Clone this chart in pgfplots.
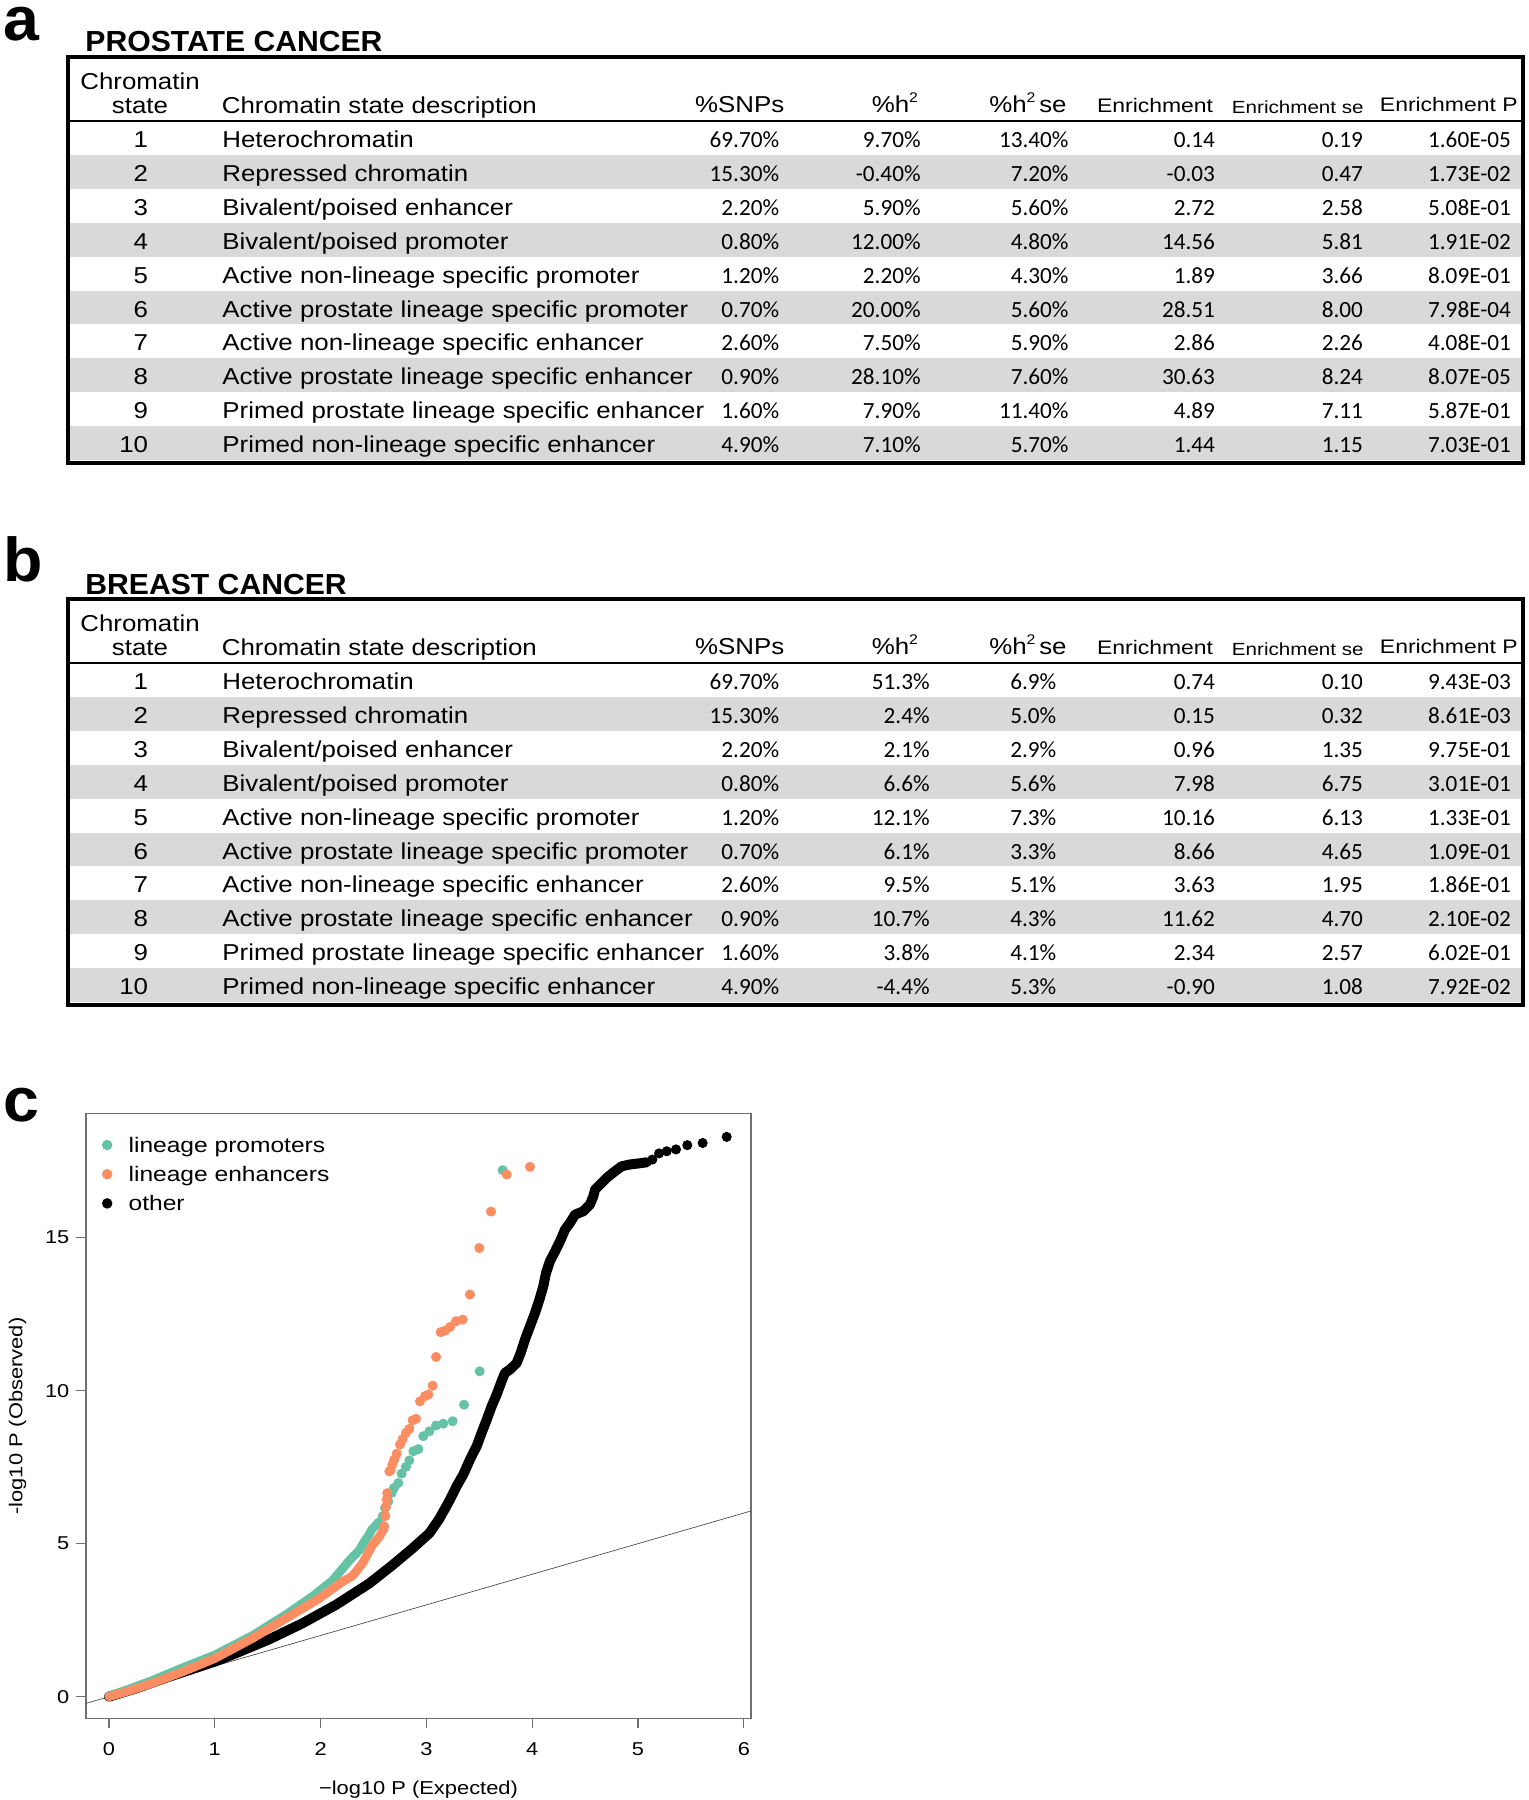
\documentclass[border=0pt]{standalone}
\usepackage{fontspec}
\usepackage{pgfplots}
\pgfplotsset{compat=1.18}
\setmainfont{Liberation Sans}
\newfontfamily\hvs{Liberation Sans}[FakeStretch=1.125]
\newfontfamily\hvq{Liberation Sans}[FakeStretch=1.17]
\newfontfamily\hvt{Liberation Sans}[FakeStretch=1.04]
\newfontfamily\calib{Carlito}
\definecolor{rowgrey}{HTML}{D9D9D9}
\definecolor{tealc}{HTML}{66C2A5}
\definecolor{orangec}{HTML}{FC8D62}
\definecolor{boxgrey}{HTML}{707070}

\newcommand\hf{\hvs\fontsize{11.5}{12}\selectfont}
\newcommand\nf{\calib\fontsize{11.6}{13}\selectfont}
\newcommand\sq{\raisebox{0.42em}{\fontsize{7}{7}\selectfont 2}}

% #1 = right edge of %h2 values, #2 = right edge of %h2 se values, #3 = rows
\newcommand\chromtable[3]{%
  \foreach \k in {2,4,6,8,10} {\fill[rowgrey] (69,{121+(\k-1)*33.9}) rectangle (1521,{121+\k*33.9});}
  \draw[line width=0.9pt] (67,120.7) -- (1523,120.7);
  \draw[line width=2pt] (67.5,56.7) rectangle (1522.5,463);
  \node[anchor=base, inner sep=0] at (140,89.7) {\hf Chromatin};
  \node[anchor=base, inner sep=0] at (140,113) {\hf state};
  \node[anchor=base west, inner sep=0] at (221.5,113) {\hf Chromatin state description};
  \node[anchor=base east, inner sep=0] at (784.7,112.5) {\hf \%SNPs};
  \node[anchor=base east, inner sep=0] at (918.3,112.5) {\hf \%h\sq};
  \node[anchor=base east, inner sep=0] at (1067,112.5) {\hf \%h\sq\,se};
  \node[anchor=base east, inner sep=0] at (1213.5,112.5) {\hvq\fontsize{9.8}{11}\selectfont Enrichment};
  \node[anchor=base east, inner sep=0] at (1364,113) {\hvq\fontsize{8.8}{10}\selectfont Enrichment se};
  \node[anchor=base east, inner sep=0] at (1518,111) {\hvq\fontsize{9.8}{11}\selectfont Enrichment P};
  \foreach \k/\desc/\snp/\hh/\hse/\en/\ese/\ep in {#3} {
    \pgfmathsetmacro\yb{147.5+(\k-1)*33.9}
    \node[anchor=base east, inner sep=0] at (148.5,\yb) {\hf \k};
    \node[anchor=base west, inner sep=0] at (222,\yb) {\hf \desc};
    \node[anchor=base east, inner sep=0] at (779.5,\yb) {\nf \snp};
    \node[anchor=base east, inner sep=0] at (#1,\yb) {\nf \hh};
    \node[anchor=base east, inner sep=0] at (#2,\yb) {\nf \hse};
    \node[anchor=base east, inner sep=0] at (1215.3,\yb) {\nf \en};
    \node[anchor=base east, inner sep=0] at (1363.3,\yb) {\nf \ese};
    \node[anchor=base east, inner sep=0] at (1511.3,\yb) {\nf \ep};
  }
}

\begin{document}
\begin{tikzpicture}
\path[use as bounding box] (0pt,0pt) rectangle (764pt,-900pt);

\begin{scope}[x=0.5pt,y=-0.5pt]
  % panel a
  \node[anchor=base west, inner sep=0] at (3,40) {\hvt\bfseries\fontsize{31}{31}\selectfont a};
  \node[anchor=base west, inner sep=0] at (85,51) {\hvt\bfseries\fontsize{14.5}{16}\selectfont PROSTATE CANCER};
  \chromtable{921}{1068.9}{%
    1/Heterochromatin/69.70\%/9.70\%/13.40\%/0.14/0.19/1.60E-05,
    2/Repressed chromatin/15.30\%/-0.40\%/7.20\%/-0.03/0.47/1.73E-02,
    3/{Bivalent/poised enhancer}/2.20\%/5.90\%/5.60\%/2.72/2.58/5.08E-01,
    4/{Bivalent/poised promoter}/0.80\%/12.00\%/4.80\%/14.56/5.81/1.91E-02,
    5/Active non-lineage specific promoter/1.20\%/2.20\%/4.30\%/1.89/3.66/8.09E-01,
    6/Active prostate lineage specific promoter/0.70\%/20.00\%/5.60\%/28.51/8.00/7.98E-04,
    7/Active non-lineage specific enhancer/2.60\%/7.50\%/5.90\%/2.86/2.26/4.08E-01,
    8/Active prostate lineage specific enhancer/0.90\%/28.10\%/7.60\%/30.63/8.24/8.07E-05,
    9/Primed prostate lineage specific enhancer/1.60\%/7.90\%/11.40\%/4.89/7.11/5.87E-01,
    10/Primed non-lineage specific enhancer/4.90\%/7.10\%/5.70\%/1.44/1.15/7.03E-01}
  % panel b
  \begin{scope}[yshift=-271pt]
  \node[anchor=base west, inner sep=0] at (3,39.7) {\hvt\bfseries\fontsize{31}{31}\selectfont b};
  \node[anchor=base west, inner sep=0] at (85,52) {\hvt\bfseries\fontsize{14.5}{16}\selectfont BREAST CANCER};
  \chromtable{930}{1056.7}{%
    1/Heterochromatin/69.70\%/51.3\%/6.9\%/0.74/0.10/9.43E-03,
    2/Repressed chromatin/15.30\%/2.4\%/5.0\%/0.15/0.32/8.61E-03,
    3/{Bivalent/poised enhancer}/2.20\%/2.1\%/2.9\%/0.96/1.35/9.75E-01,
    4/{Bivalent/poised promoter}/0.80\%/6.6\%/5.6\%/7.98/6.75/3.01E-01,
    5/Active non-lineage specific promoter/1.20\%/12.1\%/7.3\%/10.16/6.13/1.33E-01,
    6/Active prostate lineage specific promoter/0.70\%/6.1\%/3.3\%/8.66/4.65/1.09E-01,
    7/Active non-lineage specific enhancer/2.60\%/9.5\%/5.1\%/3.63/1.95/1.86E-01,
    8/Active prostate lineage specific enhancer/0.90\%/10.7\%/4.3\%/11.62/4.70/2.10E-02,
    9/Primed prostate lineage specific enhancer/1.60\%/3.8\%/4.1\%/2.34/2.57/6.02E-01,
    10/Primed non-lineage specific enhancer/4.90\%/-4.4\%/5.3\%/-0.90/1.08/7.92E-02}
  \end{scope}
  % panel c letter
  \node[anchor=base west, inner sep=0] at (3,1121) {\hvt\bfseries\fontsize{31}{31}\selectfont c};
\end{scope}

\begin{axis}[
  at={(43pt,-859.3pt)}, anchor=south west,
  scale only axis, width=332.5pt, height=302.5pt,
  xmin=-0.217, xmax=6.068, ymin=-0.716, ymax=19.05,
  axis line style={boxgrey, line width=0.6pt},
  tick style={boxgrey, line width=0.6pt},
  tick align=outside, major tick length=4.8pt,
  tick pos=left,
  xtick={0,1,2,3,4,5,6}, ytick={0,5,10,15},
  /pgf/number format/assume math mode=true,
  tick label style={font=\hvq\fontsize{9.3}{11}\selectfont},
  xticklabel style={yshift=-3.5pt},
  xlabel={\char"2212 log10 P (Expected)},
  ylabel={-log10 P (Observed)},
  label style={font=\hvq\fontsize{9.35}{11}\selectfont},
  xlabel style={at={(axis description cs:0.5,-0.117)}, anchor=center},
  ylabel style={at={(axis description cs:-0.103,0.5)}, anchor=center},
  legend style={at={(axis description cs:0,1)}, anchor=north west, xshift=8.0pt, yshift=-10.6pt,
    draw=none, fill=none, inner sep=0pt, row sep=4.8pt, column sep=8.3pt,
    nodes={inner sep=0pt, text height=8.4pt, text depth=1.4pt},
    font=\hvq\fontsize{10.5}{12}\selectfont},
  legend cell align=left,
  legend image code/.code={\draw[#1] plot coordinates {(0pt,0pt)};},
]
\addlegendimage{only marks, mark=*, mark size=2.4pt, tealc}
\addlegendentry{lineage promoters}
\addlegendimage{only marks, mark=*, mark size=2.4pt, orangec}
\addlegendentry{lineage enhancers}
\addlegendimage{only marks, mark=*, mark size=2.4pt, black}
\addlegendentry{other}

% reference line y = x
\addplot[gray!60!black, line width=0.35pt, forget plot] coordinates {(-0.217,-0.217) (6.068,6.068)};

% other (dense band and sparse top points)
\addplot[black, line width=5pt, line cap=round, line join=round, forget plot] coordinates {
(0,0) (0.255,0.27) (0.57,0.655) (1.0,1.146) (1.2,1.42) (1.515,1.875) (1.83,2.4) (2.145,3.0)
(2.46,3.7) (2.68,4.3) (2.87,4.85) (3.028,5.34) (3.12,5.8) (3.185,6.2) (3.223,6.44) (3.286,6.88)
(3.349,7.26) (3.412,7.75) (3.475,8.18) (3.522,8.62) (3.57,9.05) (3.617,9.49) (3.664,9.87)
(3.711,10.31) (3.743,10.58) (3.79,10.69) (3.853,10.9) (3.891,11.23) (3.932,11.67) (3.979,12.10)
(4.027,12.54) (4.068,12.97) (4.105,13.41) (4.131,13.85) (4.168,14.23) (4.216,14.55) (4.263,14.88)
(4.31,15.26) (4.357,15.48) (4.405,15.75) (4.483,15.86) (4.546,16.08) (4.578,16.35) (4.594,16.57)
(4.641,16.73) (4.704,16.95) (4.783,17.17) (4.846,17.33) (4.925,17.39) (5.0,17.42) (5.082,17.46)};
\addplot[only marks, mark=*, mark size=2.3pt, black, forget plot] coordinates {
(5.136,17.55) (5.199,17.75) (5.271,17.82) (5.359,17.88) (5.466,18.02) (5.611,18.09) (5.838,18.29)};

% lineage promoters
\addplot[tealc, line width=4.4pt, line cap=round, line join=round, forget plot] coordinates {
(0,0.02) (0.2,0.26) (0.41,0.53) (0.7,0.95) (1.0,1.36) (1.358,2.0) (1.673,2.68) (1.925,3.28)
(2.114,3.8) (2.272,4.45) (2.366,4.79) (2.42,5.1) (2.46,5.3) (2.483,5.46) (2.546,5.68)};
\addplot[only marks, mark=*, mark size=2.3pt, tealc, forget plot] coordinates {
(2.546,5.68) (2.587,5.89) (2.609,6.17) (2.64,6.38) (2.672,6.66) (2.694,6.82) (2.735,6.98)
(2.766,7.29) (2.807,7.51) (2.839,7.72) (2.877,8.02) (2.924,8.09) (2.971,8.51) (3.028,8.67)
(3.091,8.86) (3.16,8.92) (3.248,9.0) (3.356,9.54) (3.504,10.63) (3.721,17.20)};

% lineage enhancers
\addplot[orangec, line width=4.4pt, line cap=round, line join=round, forget plot] coordinates {
(0,0) (0.2,0.2) (0.41,0.44) (0.7,0.82) (1.0,1.25) (1.358,1.91) (1.673,2.56) (1.988,3.21)
(2.208,3.76) (2.303,3.95) (2.397,4.36) (2.492,4.96) (2.555,5.23) (2.602,5.5)};
\addplot[only marks, mark=*, mark size=2.3pt, orangec, forget plot] coordinates {
(2.60,5.57) (2.612,5.9) (2.618,6.2) (2.625,6.44) (2.63,6.65) (2.65,7.36) (2.662,7.40)
(2.678,7.58) (2.697,7.75) (2.719,7.94) (2.751,8.24) (2.776,8.42) (2.807,8.62) (2.839,8.75)
(2.870,9.03) (2.902,9.08) (2.94,9.65) (2.987,9.82) (3.018,9.87) (3.059,10.16) (3.091,11.1)
(3.135,11.91) (3.176,11.96) (3.223,12.08) (3.28,12.27) (3.343,12.32) (3.412,13.14) (3.5,14.66)
(3.611,15.85) (3.759,17.06) (3.979,17.31)};
\end{axis}
\end{tikzpicture}
\end{document}
